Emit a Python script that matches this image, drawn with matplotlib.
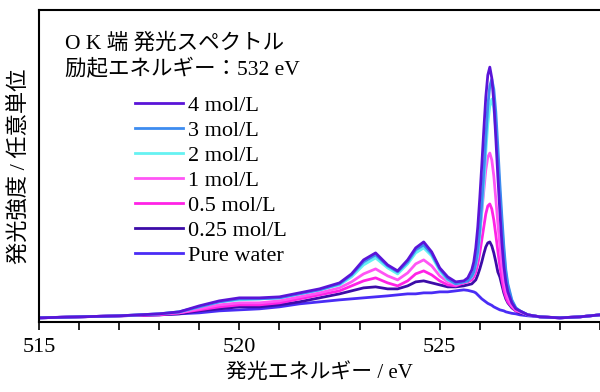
import matplotlib
matplotlib.use("Agg")
import matplotlib.pyplot as plt

plt.rcParams['font.family'] = ['Liberation Serif', 'Noto Sans CJK JP']

# emission energy grid (eV)
energy = [515, 516, 517, 518, 518.5, 519, 519.5, 520, 520.5, 521, 521.5, 522, 522.5,
          522.8, 523.1, 523.4, 523.7, 523.95, 524.2, 524.4, 524.6, 524.8, 525.0, 525.2,
          525.4, 525.6, 525.7, 525.8, 525.85, 525.9, 525.95, 526.0, 526.05, 526.1,
          526.15, 526.2, 526.25, 526.3, 526.35, 526.4, 526.45, 526.5, 526.55, 526.6,
          526.65, 526.7, 526.8, 526.9, 527.0, 527.2, 527.5, 528, 528.5, 529]

# intensities (arb. units)
i_4mol = [4, 5, 6, 8, 10, 16, 21, 24, 24, 25, 29, 33, 39, 48, 62, 69, 57, 51, 62, 74, 80, 70, 54, 45,
          40, 41, 44, 52, 60, 74, 95, 124, 157, 192, 225, 247, 255, 244, 220, 184, 146, 111, 80, 56,
          40, 30, 19, 13, 11, 7, 5, 4, 5, 7]
i_3mol = [4, 5, 6, 8, 10, 15, 20, 23, 23, 24, 28, 32, 38, 47, 60, 67, 56, 50, 60, 72, 77, 68, 53, 43,
          38, 40, 41, 46, 50, 59, 71, 92, 119, 150, 184, 216, 236, 243, 233, 210, 176, 139, 106, 76,
          52, 38, 22, 14, 11, 7, 5, 4, 5, 7]
i_2mol = [4, 5, 6, 8, 10, 15, 20, 22, 23, 24, 28, 32, 37, 45, 57, 64, 54, 48, 58, 69, 74, 66, 51, 42,
          38, 40, 41, 45, 49, 57, 67, 86, 111, 139, 170, 198, 216, 223, 214, 192, 162, 128, 98, 70,
          49, 36, 21, 14, 11, 7, 5, 4, 5, 7]
i_1mol = [4, 5, 6, 8, 9, 13, 17, 19, 19, 21, 25, 29, 34, 40, 48, 53, 46, 42, 49, 58, 62, 56, 46, 40,
          37, 40, 41, 46, 51, 59, 72, 90, 110, 131, 152, 165, 169, 162, 146, 123, 99, 77, 57, 41,
          31, 24, 16, 12, 10, 7, 5, 4, 5, 7]
i_05mol = [4, 5, 6, 7, 9, 12, 15, 17, 17, 19, 23, 27, 31, 36, 41, 44, 39, 36, 41, 48, 51, 47, 41, 37,
           36, 39, 40, 42, 45, 50, 58, 69, 82, 95, 108, 116, 118, 113, 102, 87, 71, 56, 43, 32,
           25, 20, 15, 11, 10, 7, 5, 4, 5, 7]
i_025mol = [4, 5, 6, 7, 8, 11, 13, 15, 15, 17, 20, 24, 28, 31, 34, 35, 33, 33, 36, 40, 41, 39, 37, 35,
            35, 36, 37, 38, 40, 42, 47, 53, 60, 68, 75, 79, 80, 76, 69, 60, 50, 45, 37, 29,
            23, 19, 14, 11, 9, 7, 5, 4, 5, 7]
i_water = [4, 5, 6, 7, 8, 9, 11, 12, 13, 15, 18, 20, 22, 23, 24, 25, 26, 27, 28, 28, 29, 29, 30, 30,
           31, 32, 31.5, 30.5, 30, 29, 27, 25, 23, 21.5, 20, 18.5, 17.5, 16.5, 15, 14, 13, 12, 11.5, 11,
           10, 9.5, 8.5, 8, 7, 6, 5, 4, 5, 7]

labels = ['4 mol/L', '3 mol/L', '2 mol/L', '1 mol/L', '0.5 mol/L', '0.25 mol/L', 'Pure water']
series = [i_4mol, i_3mol, i_2mol, i_1mol, i_05mol, i_025mol, i_water]
colors = ['#5a14d8', '#3d8cf0', '#66f2f2', '#ff55f5', '#ff22e6', '#3c0ca8', '#4a2cf5']

fig = plt.figure(figsize=(6.0, 3.92), dpi=100)
ax = fig.add_axes([0.065, 0.179, 0.935, 0.795])

# draw the low-concentration curves first so the strong ones sit on top
order = [6, 5, 4, 3, 2, 1, 0]
handles = {}
for k in order:
    h, = ax.plot(energy, series[k], color=colors[k], lw=2.0, label=labels[k])
    handles[k] = h

ax.set_xlim(515, 529)
ax.set_ylim(0, 312)
ax.set_xticks([515, 520, 525])
ax.set_xticks(range(515, 530), minor=True)
ax.tick_params(axis='x', which='both', direction='out', length=6, width=1.2, labelsize=16, pad=6)
ax.set_yticks([])
for s in ['left', 'bottom', 'top']:
    ax.spines[s].set_linewidth(1.5)
ax.spines['right'].set_visible(False)

ax.set_xlabel('発光エネルギー / eV', fontsize=15, labelpad=4)
ax.set_ylabel('発光強度 / 任意単位', fontsize=16, labelpad=6)

ax.text(0.046, 0.893, 'O K 端 発光スペクトル', transform=ax.transAxes, fontsize=15.5, va='center')
ax.text(0.046, 0.81, '励起エネルギー：532 eV', transform=ax.transAxes, fontsize=15.5, va='center')

ax.legend([handles[k] for k in range(7)], labels, loc='upper left',
          bbox_to_anchor=(0.156, 0.755), frameon=False, fontsize=16,
          handlelength=2.16, handletextpad=0.2, labelspacing=0.2, borderaxespad=0)

fig.savefig('out.png', dpi=100)
